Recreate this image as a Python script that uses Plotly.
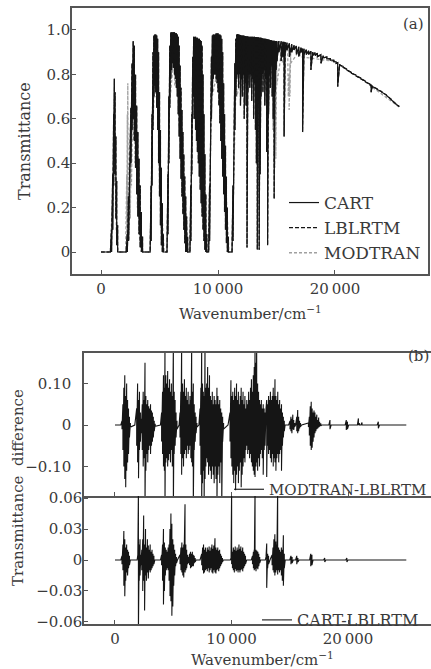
import plotly.graph_objects as go

# ---------------- Panel (a): transmittance ----------------
# CART / LBLRTM spectrum: upper and lower envelope of the dense line structure
wn_a = ([0, 800]
        + [900, 1000, 1080, 1140, 1200, 1270, 1340, 1420, 1480]
        + [2150, 2250, 2350, 2450, 2550, 2650, 2750, 2850, 2950, 3050, 3150, 3250, 3350, 3450, 3550, 3650]
        + [4200, 4280, 4360, 4440, 4520, 4600, 4680, 4760, 4840, 4920, 5000, 5080, 5160, 5240, 5320, 5400]
        + [5640, 5720, 5800, 5880, 5960, 6040, 6120, 6200, 6280, 6360, 6440, 6520, 6600, 6680, 6760, 6840,
           6920, 7000, 7080, 7160, 7240, 7320, 7400, 7480]
        + [7600, 7680, 7760, 7840, 7920, 8000, 8080, 8160, 8240, 8320, 8400, 8480, 8560, 8640, 8720, 8800,
           8880, 8960, 9040, 9100]
        + [9200, 9280, 9360, 9440, 9520, 9600, 9680, 9760, 9840, 9920, 10000, 10080, 10160, 10240, 10320,
           10400, 10480, 10560, 10640, 10720, 10800, 10880, 10940]
        + [11200, 11280, 11360, 11440, 11520, 11600, 11680, 11760, 11840, 11920,
           12000, 12080, 12160, 12240, 12320, 12400, 12480, 12560, 12640, 12720,
           12800, 12880, 12960, 13040, 13120, 13200, 13280, 13360, 13440, 13520,
           13600, 13680, 13760, 13840, 13920, 14000, 14080, 14160, 14240, 14320,
           14400, 14480, 14560, 14640, 14720, 14800, 14880, 14960, 15040]
        + [15200, 15400, 15550, 15650, 15750, 15900, 16100, 16300, 16500, 16700,
           16900, 17100, 17230, 17350, 17550, 17750, 17940, 18100, 18300, 18500,
           18800, 19000, 19300, 19600, 19900, 20100, 20230, 20400, 20700, 21000,
           21400, 21800, 22200, 22600, 23000, 23090, 23200, 23600, 24000, 24400,
           24800, 25200, 25500])

t_hi = ([0, 0]
        + [0.10, 0.35, 0.62, 0.78, 0.72, 0.52, 0.32, 0.12, 0.0]
        + [0.0, 0.08, 0.25, 0.45, 0.65, 0.85, 0.95, 0.93, 0.80, 0.66, 0.54, 0.42, 0.30, 0.18, 0.07, 0.0]
        + [0.0, 0.30, 0.62, 0.90, 0.975, 0.98, 0.98, 0.975, 0.96, 0.90, 0.72, 0.55, 0.38, 0.22, 0.08, 0.0]
        + [0.0, 0.35, 0.70, 0.93, 0.99, 0.99, 0.99, 0.99, 0.99, 0.985, 0.985, 0.98, 0.97, 0.93, 0.84, 0.74,
           0.64, 0.54, 0.44, 0.34, 0.25, 0.16, 0.07, 0.0]
        + [0.0, 0.30, 0.62, 0.88, 0.97, 0.97, 0.97, 0.965, 0.965, 0.96, 0.96, 0.955, 0.95, 0.93, 0.80, 0.62,
           0.44, 0.26, 0.08, 0.0]
        + [0.0, 0.30, 0.62, 0.88, 0.975, 0.98, 0.98, 0.98, 0.985, 0.985, 0.985, 0.98, 0.98, 0.975, 0.96,
           0.90, 0.76, 0.62, 0.48, 0.34, 0.20, 0.07, 0.0]
        + [0.00, 0.30, 0.60, 0.85, 0.96, 0.980, 0.982, 0.980, 0.978, 0.977,
           0.976, 0.975, 0.975, 0.974, 0.973, 0.972, 0.972, 0.971, 0.970, 0.970,
           0.970, 0.970, 0.970, 0.969, 0.969, 0.968, 0.968, 0.967, 0.967, 0.966,
           0.966, 0.965, 0.964, 0.963, 0.962, 0.961, 0.960, 0.959, 0.958, 0.957,
           0.956, 0.955, 0.954, 0.953, 0.952, 0.951, 0.950, 0.950, 0.950]
        + [0.950, 0.949, 0.948, 0.947, 0.945, 0.943, 0.940, 0.936, 0.932, 0.928,
           0.924, 0.920, 0.917, 0.915, 0.911, 0.907, 0.904, 0.901, 0.898, 0.895,
           0.889, 0.884, 0.878, 0.871, 0.863, 0.857, 0.853, 0.847, 0.836, 0.824,
           0.809, 0.797, 0.784, 0.770, 0.756, 0.753, 0.749, 0.735, 0.722, 0.707,
           0.688, 0.668, 0.655])

t_lo = ([0, 0]
        + [0.0, 0.10, 0.30, 0.45, 0.35, 0.15, 0.03, 0.0, 0.0]
        + [0.0, 0.0, 0.05, 0.20, 0.40, 0.55, 0.60, 0.50, 0.38, 0.26, 0.16, 0.08, 0.02, 0.0, 0.0, 0.0]
        + [0.0, 0.05, 0.30, 0.55, 0.70, 0.75, 0.72, 0.65, 0.55, 0.40, 0.25, 0.12, 0.03, 0.0, 0.0, 0.0]
        + [0.0, 0.08, 0.40, 0.65, 0.78, 0.82, 0.85, 0.83, 0.80, 0.78, 0.74, 0.70, 0.62, 0.52, 0.42, 0.33,
           0.25, 0.17, 0.10, 0.04, 0.0, 0.0, 0.0, 0.0]
        + [0.0, 0.05, 0.35, 0.60, 0.70, 0.60, 0.55, 0.50, 0.45, 0.40, 0.34, 0.28, 0.22, 0.16, 0.10, 0.05,
           0.01, 0.0, 0.0, 0.0]
        + [0.0, 0.05, 0.35, 0.60, 0.72, 0.78, 0.80, 0.80, 0.78, 0.76, 0.72, 0.66, 0.58, 0.50, 0.42,
           0.34, 0.26, 0.18, 0.10, 0.04, 0.0, 0.0, 0.0]
        + [0.00, 0.05, 0.30, 0.55, 0.70, 0.78, 0.80, 0.74, 0.80, 0.66,
           0.78, 0.70, 0.80, 0.60, 0.76, 0.66, 0.02, 0.72, 0.80, 0.74,
           0.80, 0.68, 0.78, 0.60, 0.76, 0.55, 0.40, 0.01, 0.70, 0.01,
           0.35, 0.70, 0.80, 0.72, 0.82, 0.66, 0.78, 0.45, 0.03, 0.62,
           0.80, 0.74, 0.84, 0.70, 0.60, 0.24, 0.72, 0.82, 0.86]
        + [0.90, 0.86, 0.88, 0.52, 0.90, 0.91, 0.88, 0.90, 0.91, 0.89,
           0.88, 0.90, 0.54, 0.89, 0.89, 0.89, 0.82, 0.885, 0.885, 0.88,
           0.85, 0.875, 0.87, 0.865, 0.857, 0.85, 0.745, 0.842, 0.832, 0.82,
           0.805, 0.792, 0.78, 0.766, 0.75, 0.72, 0.745, 0.732, 0.72, 0.705,
           0.686, 0.666, 0.655])

# MODTRAN spectrum (coarser, mostly hidden below the LBL curves)
wn_mod = [0, 800, 950, 1140, 1300, 1460, 2100, 2200, 2250, 2290, 2330, 2400, 2500, 2600, 2750, 2900,
          3100, 3300, 3650, 4200, 4450, 4700, 4950, 5400, 5640, 5920, 6300, 6650, 7480, 7600, 7900,
          8500, 9100, 9200, 9500, 10300, 10940, 11200, 11600, 12500, 13500, 14600, 14700, 14780, 14860,
          14940, 15020, 15500, 15950, 16010, 16080, 16150, 16210, 17000, 20000, 23000, 25500]
tm_hi = [0, 0, 0.2, 0.7, 0.3, 0, 0, 0.35, 0.62, 0.76, 0.60, 0.40, 0.45, 0.60, 0.80, 0.75,
         0.50, 0.30, 0, 0, 0.8, 0.9, 0.7, 0, 0, 0.9, 0.92, 0.85, 0, 0, 0.85,
         0.88, 0, 0, 0.88, 0.9, 0, 0, 0.9, 0.9, 0.9, 0.9, 0.9, 0.85, 0.8,
         0.85, 0.9, 0.93, 0.93, 0.85, 0.8, 0.85, 0.92, 0.91, 0.858, 0.753, 0.652]
tm_lo = [0, 0, 0.1, 0.5, 0.1, 0, 0, 0.05, 0.20, 0.40, 0.15, 0.05, 0.15, 0.30, 0.50, 0.40,
         0.20, 0.05, 0, 0, 0.6, 0.7, 0.4, 0, 0, 0.7, 0.75, 0.6, 0, 0, 0.6,
         0.6, 0, 0, 0.7, 0.7, 0, 0, 0.7, 0.75, 0.75, 0.7, 0.55, 0.40, 0.38,
         0.42, 0.75, 0.85, 0.85, 0.70, 0.64, 0.70, 0.85, 0.88, 0.855, 0.75, 0.65]

# ---------------- Panel (b): differences ----------------
md_x = ([0, 500]
        + [600, 680, 760, 840, 920, 1000, 1080, 1160, 1240, 1320]
        + [1700, 1860, 1940, 2020, 2100, 2180, 2260]
        + [2340, 2420, 2500, 2575, 2650, 2730, 2810, 2890, 2970, 3050, 3130, 3210, 3290, 3370, 3450]
        + [3900, 4000, 4080, 4160, 4240, 4290, 4360, 4440, 4520, 4600, 4680, 4760, 4840, 4920, 5010,
           5080, 5160, 5240, 5320]
        + [5500, 5580, 5650, 5720, 5800, 5880, 5960, 6040, 6120, 6200, 6280, 6360, 6440, 6510, 6580,
           6650, 6720, 6800, 6880, 6960, 7030]
        + [7200, 7300, 7370, 7440, 7510, 7580, 7650, 7725, 7800, 7870, 7950, 8030, 8110, 8190, 8270,
           8350, 8430, 8510, 8590, 8670, 8750, 8830, 8910, 8990, 9070, 9160, 9240, 9320]
        + [9700, 9870, 9950, 10030, 10110, 10190, 10270, 10350, 10430, 10510, 10590, 10670, 10750,
           10830, 10910, 10990, 11070, 11150, 11230, 11310, 11390, 11470, 11550, 11630, 11710, 11790]
        + [11870, 11950, 12020, 12100, 12160, 12240, 12320, 12400, 12480, 12560, 12640, 12720, 12800,
           12880, 12960, 13020]
        + [13100, 13180, 13260, 13340, 13420, 13500, 13580, 13660, 13730, 13810, 13890, 13970, 14050,
           14130, 14210, 14290, 14370, 14450, 14530, 14600]
        + [14900, 15020, 15100, 15180, 15260, 15340, 15420, 15500, 15600, 15680, 15760, 15840, 15920, 16020]
        + [16600, 16680, 16760, 16840, 16920, 17000, 17080, 17160, 17240, 17320, 17400, 17480, 17560,
           17660, 17740]
        + [18350, 18450, 18550, 19750, 19850, 19950, 20050, 20800, 20890, 20980, 21100, 21200, 21300,
           22500, 22600, 22700, 25000])
md_hi = ([0, 0]
         + [0.01, 0.05, 0.09, 0.12, 0.07, 0.10, 0.06, 0.04, 0.02, 0.005]
         + [0, 0.04, 0.10, 0.06, 0.08, 0.03, 0.015]
         + [0.05, 0.08, 0.06, 0.15, 0.07, 0.05, 0.06, 0.045, 0.04, 0.05, 0.035, 0.03, 0.02, 0.01, 0.003]
         + [0, 0.03, 0.08, 0.12, 0.09, 0.20, 0.12, 0.10, 0.13, 0.09, 0.11, 0.08, 0.10, 0.07, 0.20,
            0.08, 0.06, 0.03, 0.01]
         + [0, 0.03, 0.08, 0.20, 0.10, 0.08, 0.11, 0.07, 0.09, 0.06, 0.08, 0.05, 0.07, 0.06, 0.20,
            0.08, 0.10, 0.05, 0.03, 0.02, 0.005]
         + [0, 0.04, 0.09, 0.20, 0.10, 0.08, 0.07, 0.20, 0.09, 0.10, 0.14, 0.09, 0.12, 0.07, 0.06,
            0.08, 0.05, 0.07, 0.06, 0.05, 0.09, 0.07, 0.05, 0.06, 0.04, 0.03, 0.02, 0.005]
         + [0, 0.03, 0.108, 0.07, 0.08, 0.06, 0.09, 0.07, 0.10, 0.06, 0.08, 0.05, 0.07,
            0.09, 0.06, 0.08, 0.05, 0.07, 0.04, 0.06, 0.05, 0.08, 0.06, 0.09, 0.11, 0.08]
         + [0.12, 0.14, 0.20, 0.15, 0.20, 0.10, 0.08, 0.06, 0.05, 0.06, 0.04, 0.05, 0.04,
            0.03, 0.04, 0.06]
         + [0.05, 0.07, 0.06, 0.08, 0.06, 0.07, 0.09, 0.07, 0.11, 0.07, 0.06, 0.08, 0.05,
            0.06, 0.04, 0.05, 0.03, 0.02, 0.01, 0]
         + [0, 0.01, 0.02, 0.015, 0.025, 0.012, 0.005, 0, 0.02, 0.036, 0.02, 0.01, 0.005, 0]
         + [0.005, 0.02, 0.045, 0.056, 0.04, 0.03, 0.035, 0.03, 0.02, 0.025, 0.012, 0.018, 0.008,
            0.004, 0]
         + [0, 0.012, 0, 0, 0.012, 0.008, 0, 0, 0.016, 0.004, 0, 0.006, 0,
            0, 0.008, 0, 0])
md_lo = ([0, 0]
         + [-0.01, -0.06, -0.10, -0.13, -0.15, -0.11, -0.09, -0.07, -0.03, -0.005]
         + [0, -0.05, -0.09, -0.128, -0.06, -0.04, -0.02]
         + [-0.06, -0.10, -0.08, -0.20, -0.11, -0.07, -0.09, -0.06, -0.05, -0.07, -0.05, -0.04, -0.03,
            -0.015, -0.003]
         + [0, -0.04, -0.07, -0.10, -0.11, -0.20, -0.09, -0.08, -0.10, -0.085, -0.07, -0.09, -0.06,
            -0.10, -0.20, -0.07, -0.05, -0.03, -0.01]
         + [0, -0.03, -0.07, -0.12, -0.08, -0.10, -0.07, -0.06, -0.08, -0.05, -0.07, -0.06, -0.05,
            -0.08, -0.09, -0.10, -0.20, -0.06, -0.04, -0.02, -0.005]
         + [0, -0.05, -0.12, -0.20, -0.14, -0.11, -0.20, -0.13, -0.10, -0.08, -0.09, -0.12, -0.10,
            -0.11, -0.13, -0.10, -0.12, -0.14, -0.10, -0.13, -0.20, -0.12, -0.10, -0.14, -0.09,
            -0.20, -0.04, -0.01]
         + [0, -0.04, -0.08, -0.10, -0.12, -0.14, -0.11, -0.157, -0.12, -0.10, -0.14, -0.11, -0.09,
            -0.15, -0.12, -0.10, -0.08, -0.09, -0.06, -0.05, -0.07, -0.06, -0.08, -0.07, -0.09, -0.10]
         + [-0.11, -0.12, -0.125, -0.10, -0.09, -0.11, -0.08, -0.10, -0.07, -0.06, -0.08, -0.12, -0.06,
            -0.05, -0.06, -0.125]
         + [-0.05, -0.07, -0.06, -0.08, -0.09, -0.07, -0.10, -0.08, -0.09, -0.11, -0.08, -0.07, -0.09,
            -0.07, -0.06, -0.11, -0.05, -0.03, -0.015, 0]
         + [0, -0.01, -0.015, -0.02, -0.01, -0.012, -0.004, 0, -0.015, -0.02, -0.015, -0.008, -0.004, 0]
         + [-0.005, -0.025, -0.05, -0.06, -0.055, -0.04, -0.03, -0.02, -0.015, -0.01, -0.008, -0.006,
            -0.004, -0.002, 0]
         + [0, -0.01, 0, 0, -0.012, -0.01, 0, 0, 0.0, 0.0, 0, 0, 0,
            0, -0.008, 0, 0])

cd_x = ([0, 500]
        + [600, 680, 760, 840, 920, 1000, 1080, 1160, 1240, 1320]
        + [1900, 1960, 2010, 2080, 2150, 2220]
        + [2300, 2380, 2460, 2540, 2620, 2700, 2780, 2860, 2940, 3020, 3100, 3180, 3260, 3340, 3420]
        + [3900, 4000, 4080, 4160, 4240, 4320, 4400, 4480, 4560, 4640, 4720, 4800, 4880, 4960, 5040,
           5120, 5200, 5280, 5360]
        + [5580, 5660, 5740, 5820, 5900, 5960, 6010, 6080, 6150, 6230, 6310, 6400, 6480, 6560, 6640,
           6720, 6800, 6880, 6960]
        + [7300, 7440, 7520, 7600, 7680, 7760, 7840, 7920, 8000, 8080, 8160, 8240, 8320, 8400, 8480,
           8580, 8660, 8740, 8820, 8900, 8980, 9060, 9140, 9220, 9300]
        + [9900, 9960, 10010, 10080, 10160, 10240, 10320, 10400, 10480, 10560, 10640, 10720, 10800,
           10880, 10960, 11040, 11120, 11200, 11300]
        + [11700, 11800, 11880, 11950, 12020, 12100, 12180, 12260, 12340, 12420, 12500]
        + [12900, 12960, 13020, 13100, 13180, 13300, 13480, 13560, 13640, 13720, 13800, 13880, 13960,
           14040, 14120, 14200, 14280, 14360, 14450, 14530, 14610]
        + [15000, 15100, 15200, 15300, 15500, 15600, 15700, 15800, 16700, 16800, 16900, 17000, 17900,
           18000, 18100, 19800, 19900, 20000, 25000])
cd_hi = ([0, 0]
         + [0.004, 0.015, 0.028, 0.02, 0.012, 0.015, 0.01, 0.008, 0.004, 0]
         + [0, 0.005, 0.07, 0.015, 0.02, 0.005]
         + [0.01, 0.02, 0.043, 0.015, 0.03, 0.012, 0.02, 0.014, 0.01, 0.015, 0.008, 0.01, 0.006, 0.004, 0]
         + [0, 0.005, 0.015, 0.03, 0.017, 0.012, 0.01, 0.008, 0.012, 0.015, 0.03, 0.045, 0.035, 0.02,
            0.015, 0.01, 0.006, 0.003, 0]
         + [0.005, 0.012, 0.017, 0.012, 0.015, 0.02, 0.054, 0.015, 0.01, 0.005, 0.003, 0.006, 0.008,
            0.006, 0.008, 0.005, 0.004, 0.002, 0]
         + [0, 0.006, 0.012, 0.015, 0.01, 0.012, 0.008, 0.012, 0.01, 0.013, 0.009, 0.012, 0.015, 0.011,
            0.014, 0.021, 0.012, 0.01, 0.012, 0.009, 0.01, 0.006, 0.004, 0.002, 0]
         + [0, 0.002, 0.07, 0.008, 0.012, 0.01, 0.013, 0.009, 0.012, 0.01, 0.015, 0.011, 0.013,
            0.009, 0.012, 0.008, 0.006, 0.004, 0]
         + [0, 0.004, 0.008, 0.01, 0.07, 0.01, 0.009, 0.008, 0.006, 0.003, 0]
         + [0, 0.003, 0.016, 0.006, 0.004, 0, 0.005, 0.012, 0.02, 0.025, 0.018, 0.015, 0.07,
            0.012, 0.01, 0.008, 0.012, 0.01, 0.024, 0.006, 0]
         + [0, 0.004, 0.003, 0, 0, 0.004, 0.002, 0, 0, 0.006, 0.005, 0, 0,
            0.002, 0, 0, 0.002, 0, 0])
cd_lo = ([0, 0]
         + [-0.004, -0.01, -0.025, -0.035, -0.02, -0.012, -0.015, -0.008, -0.005, 0]
         + [0, -0.005, -0.07, -0.02, -0.015, -0.005]
         + [-0.01, -0.03, -0.02, -0.049, -0.015, -0.02, -0.012, -0.018, -0.01, -0.012, -0.01, -0.008,
            -0.006, -0.004, 0]
         + [0, -0.005, -0.02, -0.043, -0.03, -0.015, -0.01, -0.008, -0.01, -0.02, -0.035, -0.04, -0.054,
            -0.045, -0.025, -0.015, -0.006, -0.003, 0]
         + [-0.004, -0.01, -0.012, -0.015, -0.017, -0.01, -0.012, -0.01, -0.008, -0.004, -0.003, -0.005,
            -0.008, -0.007, -0.006, -0.006, -0.003, -0.002, 0]
         + [0, -0.005, -0.01, -0.013, -0.012, -0.01, -0.009, -0.011, -0.008, -0.012, -0.01, -0.008,
            -0.012, -0.013, -0.01, -0.012, -0.013, -0.01, -0.009, -0.011, -0.008, -0.006, -0.004,
            -0.002, 0]
         + [0, -0.002, -0.004, -0.008, -0.01, -0.012, -0.009, -0.011, -0.01, -0.012, -0.01, -0.012,
            -0.01, -0.009, -0.011, -0.008, -0.006, -0.004, 0]
         + [0, -0.004, -0.008, -0.01, -0.009, -0.011, -0.008, -0.009, -0.006, -0.003, 0]
         + [0, -0.005, -0.027, -0.008, -0.004, 0, -0.005, -0.01, -0.012, -0.015, -0.012, -0.01, -0.014,
            -0.01, -0.012, -0.01, -0.015, -0.02, -0.025, -0.008, 0]
         + [0, -0.004, -0.003, 0, 0, -0.004, -0.002, 0, 0, -0.006, -0.005, 0, 0,
            -0.002, 0, 0, -0.002, 0, 0])

# tick labels
a_xticks = [0, 10000, 20000]
a_xlabels = ["0", "10\u2009000", "20\u2009000"]
a_yticks = [0, 0.2, 0.4, 0.6, 0.8, 1.0]
a_ylabels = ["0", "0.2", "0.4", "0.6", "0.8", "1.0"]
b1_yticks = [-0.10, 0, 0.10]
b1_ylabels = ["\u22120.10", "0", "0.10"]
b2_yticks = [-0.06, -0.03, 0, 0.03, 0.06]
b2_ylabels = ["\u22120.06", "\u22120.03", "0", "0.03", "0.06"]


def zig(x, hi, lo):
    xs, ys = [], []
    for a, h, l in zip(x, hi, lo):
        xs.extend([a, a])
        ys.extend([h, l])
    return xs, ys


FONT = "DejaVu Serif"
TXT = "#3a3a3a"
W, H = 431, 669

fig = go.Figure()

mx, my = zig(wn_mod, tm_hi, tm_lo)
fig.add_trace(go.Scatter(x=mx, y=my, mode="lines", name="MODTRAN", legendrank=3,
                         line=dict(color="#a0a0a0", width=1.3, dash="3px,2px"),
                         xaxis="x", yaxis="y", hoverinfo="skip"))
ax_, ay_ = zig(wn_a, t_hi, t_lo)
fig.add_trace(go.Scatter(x=ax_, y=ay_, mode="lines", name="CART", legendrank=1,
                         line=dict(color="#151515", width=1.2),
                         xaxis="x", yaxis="y", hoverinfo="skip"))
fig.add_trace(go.Scatter(x=ax_, y=ay_, mode="lines", name="LBLRTM", legendrank=2,
                         line=dict(color="#151515", width=1.2, dash="4px,2px"),
                         xaxis="x", yaxis="y", hoverinfo="skip"))

dx, dy = zig(md_x, md_hi, md_lo)
fig.add_trace(go.Scatter(x=dx, y=dy, mode="lines", name="MODTRAN-LBLRTM", legend="legend2",
                         line=dict(color="#151515", width=1.1),
                         xaxis="x2", yaxis="y2", hoverinfo="skip"))
cx, cy = zig(cd_x, cd_hi, cd_lo)
fig.add_trace(go.Scatter(x=cx, y=cy, mode="lines", name="CART-LBLRTM", legend="legend3",
                         line=dict(color="#151515", width=1.1),
                         xaxis="x3", yaxis="y3", hoverinfo="skip"))

axis_common = dict(showline=True, linecolor="#555555", linewidth=1.5,
                   ticks="inside", ticklen=4, tickcolor="#555555", tickwidth=1,
                   showgrid=False, zeroline=False,
                   tickfont=dict(family=FONT, size=15, color=TXT))


def px_x(p):
    return p / W


def px_y(p):
    return 1 - p / H


def legend_cfg(xp, yp, size):
    return dict(x=px_x(xp), y=px_y(yp), bgcolor="rgba(0,0,0,0)", xanchor="left", yanchor="top",
                itemwidth=30, tracegroupgap=0, font=dict(family=FONT, size=size, color=TXT))


fig.update_layout(
    width=W, height=H, margin=dict(l=0, r=0, t=0, b=0, autoexpand=False),
    paper_bgcolor="white", plot_bgcolor="white",
    xaxis=dict(domain=[px_x(72), px_x(428)], range=[-2480, 27950], anchor="y", mirror=True,
               tickvals=a_xticks, ticktext=a_xlabels, ticklabelstandoff=0, **axis_common),
    yaxis=dict(domain=[px_y(274), px_y(8)], range=[-0.099, 1.099], anchor="x", mirror=True,
               tickvals=a_yticks, ticktext=a_ylabels, ticklabelstandoff=-3, **axis_common),
    xaxis2=dict(domain=[px_x(84), 1.0], range=[-2660, 27120], anchor="y2", mirror=True,
                tickvals=a_xticks, showticklabels=False, **axis_common),
    yaxis2=dict(domain=[px_y(496), px_y(353)], range=[-0.171, 0.1735], anchor="x2", mirror=True,
                tickvals=b1_yticks, ticktext=b1_ylabels, ticklabelstandoff=8, **axis_common),
    xaxis3=dict(domain=[px_x(84), 1.0], range=[-2660, 27120], anchor="y3", mirror=False,
                tickvals=a_xticks, ticktext=a_xlabels, ticklabelstandoff=0, **axis_common),
    yaxis3=dict(domain=[px_y(624), px_y(496)], range=[-0.062, 0.062], anchor="x3", mirror=True,
                tickvals=b2_yticks, ticktext=b2_ylabels, ticklabelstandoff=-3, **axis_common),
    legend=legend_cfg(284, 185, 17),
    legend2=legend_cfg(229, 473, 15),
    legend3=legend_cfg(257, 603, 16),
    showlegend=True,
)

annotations = [
    dict(text="Transmittance", x=px_x(25), y=px_y(141), textangle=-90, size=16),
    dict(text="Wavenumber/cm<sup>\u22121</sup>", x=px_x(250), y=px_y(313), size=15),
    dict(text="Transmittance  difference", x=px_x(18), y=px_y(488), textangle=-90, size=15),
    dict(text="Wavenumber/cm<sup>\u22121</sup>", x=px_x(262), y=px_y(659), size=15),
    dict(text="(a)", x=px_x(413), y=px_y(24), size=15),
    dict(text="(b)", x=px_x(418), y=px_y(356), size=15),
]
for a in annotations:
    size = a.pop("size")
    fig.add_annotation(xref="paper", yref="paper", showarrow=False,
                       xanchor="center", yanchor="middle",
                       font=dict(family=FONT, size=size, color=TXT), **a)

fig.write_html("out.html", config={"displayModeBar": False},
               post_script="document.body.style.margin='0px';document.body.style.overflow='hidden';")
